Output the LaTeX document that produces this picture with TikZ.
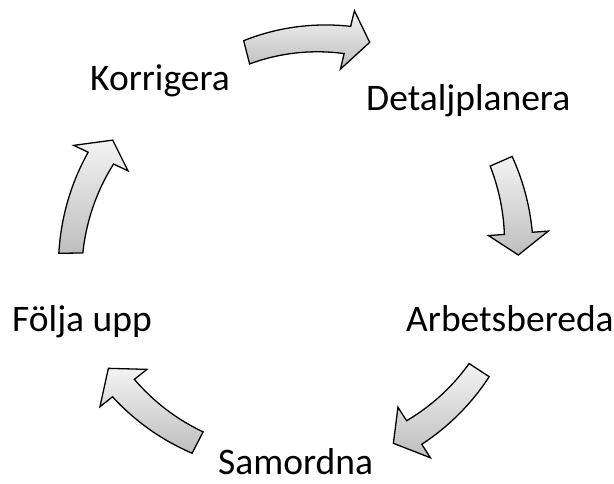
\documentclass[tikz,border=0pt]{standalone}
\usepackage{fontspec}
\setmainfont{Carlito}
\definecolor{arrowtop}{RGB}{243,243,243}
\definecolor{arrowbot}{RGB}{190,190,190}
\tikzset{
  cyclearrow/.style={draw=black, line width=1.3pt, line join=miter,
    top color=arrowtop, bottom color=arrowbot},
  steplabel/.style={font=\fontsize{37.5}{45}\selectfont, inner sep=0pt, anchor=base west},
}
% Curved block arrow around the current origin.
% #1 tail angle, #2 tail radius, #3 head-base angle, #4 head-base radius,
% #5 tip angle, #6 tip radius
\newcommand{\cycarrow}[6]{%
  \path[cyclearrow]
    plot[domain=0:1, samples=30, variable=\t]
      ({(#1)+((#3)-(#1))*\t}:{(#2)+((#4)-(#2))*\t+12+2*\t})
    -- ({#3}:{(#4)+30}) -- ({#5}:{#6}) -- ({#3}:{(#4)-30})
    -- plot[domain=1:0, samples=30, variable=\t]
      ({(#1)+((#3)-(#1))*\t}:{(#2)+((#4)-(#2))*\t-12-2*\t})
    -- cycle;}
\begin{document}
\begin{tikzpicture}[x=1pt, y=1pt]
  \fill[white] (0,0) rectangle (614,484);
  \path[use as bounding box] (0,0) rectangle (614,484);

  % step labels
  \node[steplabel] (korr)   at (90,393)  {Korrigera};
  \node[steplabel] (detalj) at (366,373) {Detaljplanera};
  \node[steplabel] (arbets) at (406,152) {Arbetsbereda};
  \node[steplabel] (samord) at (218,9)   {Samordna};
  \node[steplabel] (folja)  at (12,152)  {Följa upp};

  % arrows between the steps, drawn around the cycle centre
  \begin{scope}[shift={(297,234)}]
    \cycarrow{104.3}{204}{76.5}{216}{70.7}{220}
    \cycarrow{23.5}{222.6}{4.3}{222}{-1.3}{221.4}
    \cycarrow{-33.4}{218.2}{-57.3}{216.9}{-63.5}{216}
    \cycarrow{-117.3}{216.7}{-141.5}{221.8}{-147.9}{222.7}
    \cycarrow{180.8}{226.2}{154.9}{216.6}{149.2}{214.6}
  \end{scope}
\end{tikzpicture}
\end{document}
